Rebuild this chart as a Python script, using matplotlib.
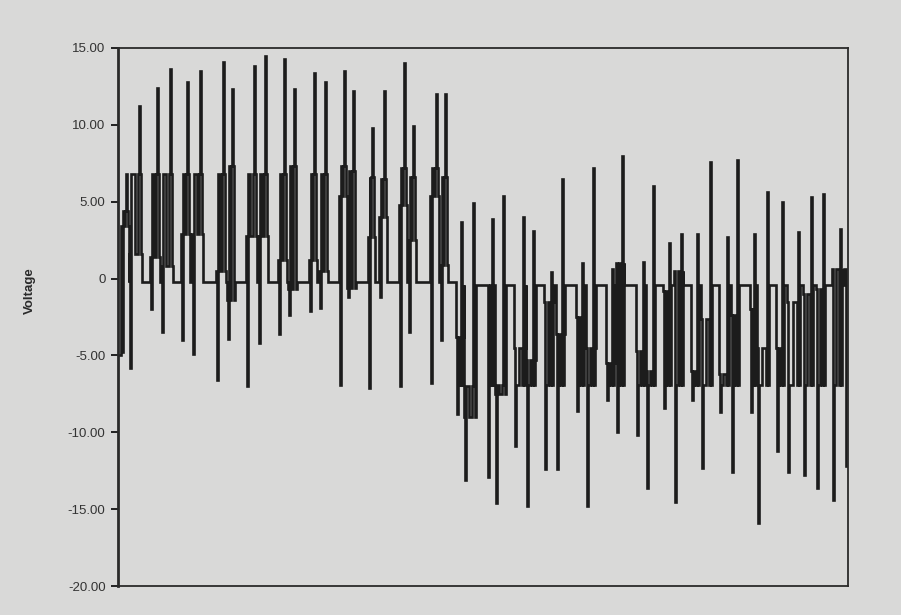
import matplotlib
matplotlib.use('Agg')
import matplotlib.pyplot as plt

plt.rcParams.update({
    'font.family': ['Liberation Sans', 'DejaVu Sans'],
    'font.size': 9.5,
})

PAPER = '#d9d9d8'
INK = '#1c1c1c'

# sample axis runs 0..730, trace opens below zero
T_END = 730
START_V = -5.0

# first stretch: pulses swing positive, rest level just under zero
POS_BASE = -0.2
pos_t_low  = [4, 12, 33, 44, 64, 75, 99, 110, 129, 141, 161, 171, 192, 202, 222, 230, 251, 262, 282, 291, 313, 323]
pos_v_low  = [-4.8, -5.8, -2.0, -3.5, -4.0, -4.9, -6.6, -3.9, -7.0, -4.2, -3.6, -2.4, -2.1, -1.9, -6.9, -1.2, -7.1, -1.2, -7.0, -3.5, -6.8, -4.0]
pos_t_high = [8, 21, 39, 52, 69, 82, 105, 114, 136, 147, 166, 176, 196, 207, 226, 235, 254, 266, 286, 295, 318, 327]
pos_v_high = [6.8, 11.2, 12.4, 13.6, 12.8, 13.5, 14.1, 12.3, 13.8, 14.5, 14.3, 12.3, 13.4, 12.8, 13.5, 12.2, 9.8, 12.2, 14.0, 9.9, 12.0, 12.0]
pos_v_hold = [4.4, 6.8, 6.8, 6.8, 6.8, 6.8, 6.8, 7.3, 6.8, 6.8, 6.8, 7.3, 6.8, 6.8, 7.3, 7.0, 6.6, 6.5, 7.2, 6.6, 7.2, 6.6]
pos_v_mid  = [3.4, 1.6, 1.4, 0.8, 2.9, 2.9, 0.5, -1.4, 2.8, 2.8, 1.2, -0.7, 1.2, 0.5, 5.4, -0.6, 2.7, 4.0, 4.8, 2.5, 5.4, 0.9]

# second stretch: pulses hang on a negative shelf
NEG_BASE = -0.4
neg_t_low  = [339, 347, 370, 378, 397, 409, 427, 439, 459, 469, 489, 499, 519, 529, 546, 557, 574, 584, 602, 614, 633, 640, 659, 670, 686, 699, 715]
neg_v_low  = [-8.8, -13.1, -12.9, -14.6, -10.9, -14.8, -12.4, -12.4, -8.6, -14.8, -7.9, -10.0, -10.2, -13.6, -8.4, -14.5, -7.9, -12.3, -8.7, -12.6, -8.7, -15.9, -11.2, -12.6, -12.8, -13.6, -14.4]
neg_t_high = [343, 355, 374, 385, 405, 415, 433, 444, 464, 475, 494, 504, 525, 535, 551, 563, 579, 592, 609, 619, 636, 649, 664, 680, 693, 705, 722]
neg_v_high = [3.7, 4.9, 3.9, 5.4, 4.0, 3.1, 0.4, 6.5, 1.0, 7.2, 0.6, 8.0, 1.1, 6.0, 2.3, 2.9, 2.9, 7.6, 2.7, 7.7, 2.9, 5.6, 5.0, 3.0, 5.3, 5.5, 3.2]
neg_v_hold = [-6.9, -7.0, -6.9, -6.9, -6.9, -6.9, -6.9, -6.9, -6.9, -6.9, -6.9, -6.9, -6.9, -6.9, -6.9, -6.9, -6.9, -6.9, -6.9, -6.9, -6.9, -6.9, -6.9, -6.9, -6.9, -6.9, -6.9]
neg_v_mid  = [-3.8, -9.0, -0.4, -7.5, -4.5, -5.3, -1.5, -3.6, -2.5, -4.5, -5.5, 1.0, -4.7, -6.0, -0.8, 0.5, -6.0, -2.6, -6.2, -2.4, -2.0, -4.5, -4.5, -1.5, -1.0, -0.7, 0.6]

# last drop right at the frame
tail_t = [726, 728.5]
tail_v = [0.6, -12.2]

y_ticks = [15, 10, 5, 0, -5, -10, -15, -20]
y_tick_labels = ['15.00', '10.00', '5.00', '0', '-5.00', '-10.00', '-15.00', '-20.00']


def pulse_train(t_low, v_low, t_high, v_high, v_hold, v_mid, base):
    """Step breakpoints for a run of pulses: dip, shelf, spike, back to rest."""
    t, v = [], []
    for tl, vl, th, vh, hold, mid in zip(t_low, v_low, t_high, v_high, v_hold, v_mid):
        t += [tl - 1.0, tl, tl + 0.8, (tl + th) / 2, th - 0.8, th, th + 0.8, th + 1.8, th + 2.6]
        v += [mid, vl, hold, mid, hold, vh, hold, mid, base]
    return t, v


ta, va = pulse_train(pos_t_low, pos_v_low, pos_t_high, pos_v_high, pos_v_hold, pos_v_mid, POS_BASE)
tb, vb = pulse_train(neg_t_low, neg_v_low, neg_t_high, neg_v_high, neg_v_hold, neg_v_mid, NEG_BASE)

t = [0] + ta + tb + tail_t + [T_END]
v = [START_V] + va + vb + tail_v + [tail_v[-1]]

fig = plt.figure(figsize=(9.01, 6.15), dpi=100, facecolor=PAPER)
ax = fig.add_axes([0.131, 0.047, 0.810, 0.875])
ax.set_facecolor(PAPER)

ax.plot(t, v, drawstyle='steps-post', color=INK, lw=1.9, solid_joinstyle='miter')

ax.set_xlim(0, T_END)
ax.set_ylim(-20, 15)
ax.set_xticks([])
ax.set_yticks(y_ticks)
ax.set_yticklabels(y_tick_labels, color='#333333')
ax.tick_params(axis='y', direction='out', length=5, width=1.4, color='#222222', pad=4)

for side, sp in ax.spines.items():
    sp.set_color('#2a2a2a')
    sp.set_linewidth(2.0 if side == 'left' else 1.3)

ax.set_ylabel('Voltage', fontsize=9.5, fontweight='bold', color='#2a2a2a')
ax.yaxis.set_label_coords(-0.112, 0.55)

fig.savefig('out.png', dpi=100, facecolor=PAPER)
